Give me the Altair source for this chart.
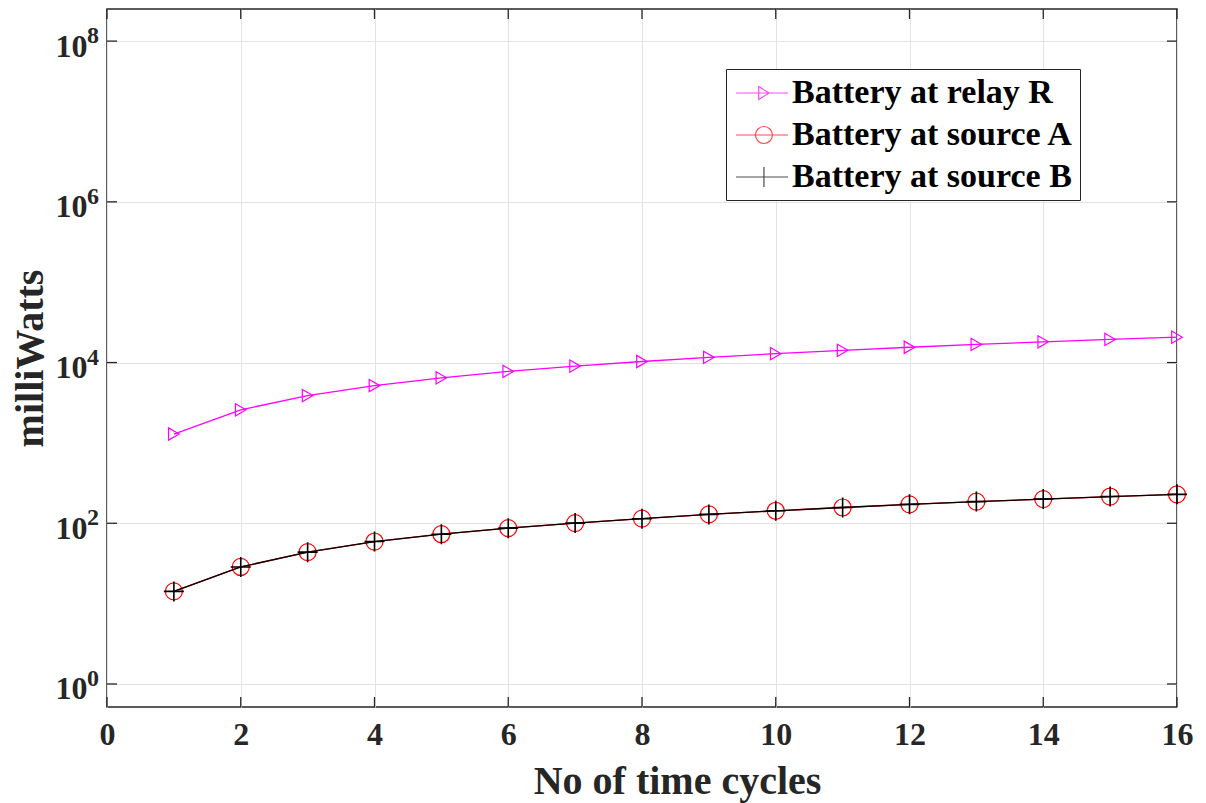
import altair as alt
import pandas as pd

# ---- data ----
cycles = list(range(1, 17))
relay_r = [1290, 2580, 3880, 5160, 6450, 7750, 9030, 10300, 11600, 12900,
           14200, 15500, 16800, 18100, 19400, 20700]
source_a = [14.2, 28.6, 43.7, 59.2, 73.1, 86.9, 100.4, 114, 129, 143,
            157, 172, 186, 200, 215, 229]
source_b = [14.2, 28.6, 43.7, 59.2, 73.1, 86.9, 100.4, 114, 129, 143,
            157, 172, 186, 200, 215, 229]
series_names = ["Battery at relay R", "Battery at source A", "Battery at source B"]
series_colors = ["#ff00ff", "#ff0000", "#000000"]
x_ticks = [0, 2, 4, 6, 8, 10, 12, 14, 16]
y_ticks = [1, 100, 1e4, 1e6, 1e8]
y_exponents = ["0", "2", "4", "6", "8"]

W, H = 1070, 698
FONT = "Liberation Serif"
AXC = "#262626"

frames = []
for name, vals in zip(series_names, [relay_r, source_a, source_b]):
    frames.append(pd.DataFrame({"cycle": cycles, "mw": vals, "series": name}))
df = pd.concat(frames, ignore_index=True)

xscale = alt.Scale(domain=[0, 16], nice=False, zero=False)
yscale = alt.Scale(type="log", domain=[0.517, 2.51e8], nice=False)

xaxis = alt.Axis(values=x_ticks, title="No of time cycles", grid=True,
                 gridColor="#e3e3e3", ticks=False, domain=False, labelFlush=False,
                 labelFont=FONT, labelFontWeight="bold", labelFontSize=32,
                 labelColor=AXC, labelPadding=12,
                 titleFont=FONT, titleFontWeight="bold", titleFontSize=40,
                 titleColor=AXC, titleX=570, titleY=86, titleAlign="center",
                 titleBaseline="alphabetic")
yaxis = alt.Axis(values=y_ticks, title="milliWatts", grid=True,
                 gridColor="#e3e3e3", ticks=False, domain=False, labelFlush=False,
                 labelExpr="'10'", labelOffset=5,
                 labelFont=FONT, labelFontWeight="bold", labelFontSize=32,
                 labelColor=AXC, labelPadding=20,
                 titleFont=FONT, titleFontWeight="bold", titleFontSize=40,
                 titleColor=AXC, titleX=-65, titleY=349, titleAlign="center",
                 titleBaseline="alphabetic", titleAngle=270)


def X(field):
    return alt.X(field, type="quantitative", scale=xscale, axis=xaxis)


def Y(field):
    return alt.Y(field, type="quantitative", scale=yscale, axis=yaxis)


base = alt.Chart(df)

markers = {
    "Battery at relay R": dict(shape="triangle-right", size=150, strokeWidth=1.2),
    "Battery at source A": dict(shape="circle", size=289, strokeWidth=1.2),
    "Battery at source B": dict(shape="M-1,0H1M0,-1V1", size=400, strokeWidth=1.6),
}

layers = []
for name, col in zip(series_names, series_colors):
    sub = base.transform_filter(alt.datum.series == name)
    layers.append(sub.mark_line(color=col, strokeWidth=1.3).encode(x=X("cycle"), y=Y("mw")))
    layers.append(sub.mark_point(color=col, filled=False, opacity=1, **markers[name]).encode(
        x=X("cycle"), y=Y("mw")))

# inward ticks on all four sides
xt = pd.DataFrame({"v": x_ticks})
yt = pd.DataFrame({"v": y_ticks, "exp": y_exponents})
tick_style = dict(color=AXC, strokeWidth=1.3)
layers.append(alt.Chart(xt).mark_rule(**tick_style).encode(
    x=X("v"), y=alt.value(H), y2=alt.value(H - 10)))
layers.append(alt.Chart(xt).mark_rule(**tick_style).encode(
    x=X("v"), y=alt.value(0), y2=alt.value(10)))
layers.append(alt.Chart(yt).mark_rule(**tick_style).encode(
    y=Y("v"), x=alt.value(0), x2=alt.value(10)))
layers.append(alt.Chart(yt).mark_rule(**tick_style).encode(
    y=Y("v"), x=alt.value(W), x2=alt.value(W - 10)))

# exponents of the y tick labels (10^n)
layers.append(alt.Chart(yt).mark_text(
    font=FONT, fontWeight="bold", fontSize=24, color=AXC, align="left",
    baseline="alphabetic", dx=0, dy=2).encode(
    y=Y("v"), x=alt.value(-20), text="exp:N"))

# legend (line + marker symbols); symbol unit = 17 px, column width 34 px
legend_paths = [
    "M-0.82,0H2.24M0.51,-0.38L1.13,0L0.51,0.38Z",
    "M-0.82,0H2.24M1.32,0A0.5,0.5 0 1,1 0.32,0A0.5,0.5 0 1,1 1.32,0",
    "M-0.82,0H2.24M0.82,-0.59V0.59",
]
leg = alt.Legend(title=None, orient="none", legendX=619, legendY=60,
                 labelFont=FONT, labelFontWeight="bold", labelFontSize=34,
                 labelColor="#000000", strokeColor="#262626", fillColor="#ffffff",
                 padding=6, rowPadding=7, labelOffset=24, symbolSize=1156,
                 symbolStrokeWidth=1.2, labelLimit=400)
legend_df = pd.DataFrame({"series": series_names, "cycle": [8, 8, 8], "mw": [1e-3, 1e-3, 1e-3]})
layers.append(alt.Chart(legend_df).mark_point(filled=False, clip=True, size=1156, strokeWidth=1.2).encode(
    x=X("cycle"), y=Y("mw"),
    color=alt.Color("series:N", scale=alt.Scale(domain=series_names, range=series_colors), legend=leg),
    shape=alt.Shape("series:N", scale=alt.Scale(domain=series_names, range=legend_paths), legend=leg),
))

chart = alt.layer(*layers).properties(
    width=W, height=H,
    padding={"left": 107, "top": 9, "right": 29, "bottom": 96},
    autosize=alt.AutoSizeParams(type="none"),
    background="#ffffff",
).configure_view(stroke=AXC, strokeWidth=1.5)

chart.save("out.html", embed_options={"renderer": "svg", "actions": False})
